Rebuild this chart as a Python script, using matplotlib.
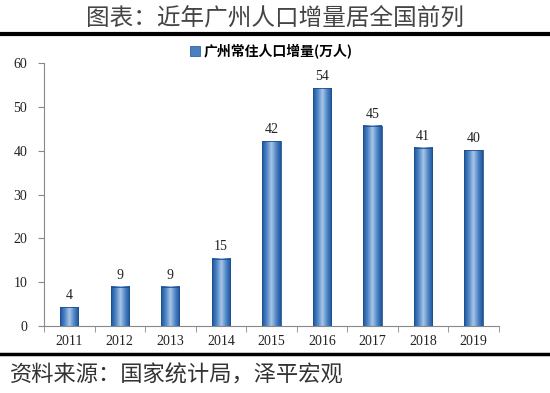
import matplotlib
matplotlib.use("Agg")
import matplotlib.pyplot as plt
import numpy as np
from matplotlib.colors import LinearSegmentedColormap
from matplotlib.lines import Line2D
from matplotlib.patches import Patch

plt.rcParams['font.family'] = ['Noto Sans CJK SC', 'DejaVu Sans']

years = ['2011', '2012', '2013', '2014', '2015', '2016', '2017', '2018', '2019']
values = [4.3, 8.9, 8.9, 15.4, 42.1, 54.2, 45.6, 40.6, 40.1]
labels = ['4', '9', '9', '15', '42', '54', '45', '41', '40']
series_name = '广州常住人口增量(万人)'
title = '图表：近年广州人口增量居全国前列'
source = '资料来源：国家统计局，泽平宏观'

fig = plt.figure(figsize=(5.5, 3.93), dpi=100)
ax = fig.add_axes([0.08, 0.170, 0.827, 0.670])

cmap = LinearSegmentedColormap.from_list('cyl', ['#1d539a', '#4f86c6', '#a9c6e6', '#4f86c6', '#1d539a'])
grad = np.linspace(0, 1, 64).reshape(1, -1)
width = 0.36
x = np.arange(len(years))
bars = ax.bar(x, values, width=width, color='none', edgecolor='#1d4f8f', linewidth=0.6, zorder=3)
for b in bars:
    x0, y0 = b.get_x(), b.get_y()
    w, h = b.get_width(), b.get_height()
    ax.imshow(grad, cmap=cmap, aspect='auto', extent=[x0, x0 + w, y0, y0 + h], zorder=2)
for xi, v, lab in zip(x, values, labels):
    ax.text(xi, v + 1.2, lab, ha='center', va='bottom', fontsize=10,
            family=['Liberation Serif'], color='#222222')

ax.set_xlim(-0.5, len(years) - 0.5)
ax.set_ylim(0, 60)
ax.set_yticks(range(0, 61, 10))
ax.set_xticks(x)
ax.set_xticklabels(years)
ax.set_xticks(np.arange(-0.5, len(years), 1), minor=True)
ax.tick_params(axis='x', which='major', length=0, pad=6)
ax.tick_params(axis='x', which='minor', length=4, direction='out', color='#888888')
ax.tick_params(axis='y', length=4, direction='out', color='#888888', pad=8)
for lbl in ax.get_xticklabels() + ax.get_yticklabels():
    lbl.set_family(['Liberation Serif'])
    lbl.set_fontsize(10)
    lbl.set_color('#222222')
for s in ['top', 'right']:
    ax.spines[s].set_visible(False)
for s in ['left', 'bottom']:
    ax.spines[s].set_color('#888888')
    ax.spines[s].set_linewidth(0.8)

leg = ax.legend([Patch(facecolor='#4a7fc0', edgecolor='#1d4f8f', linewidth=0.5)], [series_name],
                loc='lower center', bbox_to_anchor=(0.5, 1.0), frameon=False,
                borderaxespad=0.1, borderpad=0.2,
                handlelength=0.7, handleheight=0.7, handletextpad=0.3,
                prop={'family': ['Noto Sans CJK SC'], 'size': 10, 'weight': 'bold'})

fig.text(0.5, 0.952, title, ha='center', va='center', fontsize=17, color='#444444')
fig.add_artist(Line2D([0, 1], [0.913, 0.913], transform=fig.transFigure, color='black', lw=3))
fig.add_artist(Line2D([0, 1], [0.099, 0.099], transform=fig.transFigure, color='black', lw=2.5))
fig.text(0.018, 0.045, source, ha='left', va='center', fontsize=16, style='italic', color='#333333')

fig.savefig('out.png', dpi=100)
